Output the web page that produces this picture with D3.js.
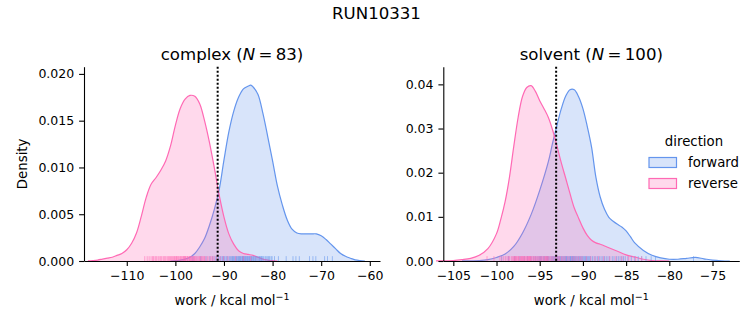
<!DOCTYPE html>
<html>
<head>
<meta charset="utf-8">
<script src="https://cdn.jsdelivr.net/npm/d3@7"></script>
<style>
  body { margin: 0; background: #fff; }
  text { font-family: "DejaVu Sans", sans-serif; fill: #000; }
</style>
</head>
<body>
<svg id="chart" width="753" height="325"></svg>
<script>
const runName = 'RUN10331';
const directions = ['forward', 'reverse'];

// kernel density curves, [work, density]
const complexForwardKde = [[-101,0],[-100,0.00003],[-99,0.0001],[-98,0.0002],[-97,0.0004],[-96,0.0008],[-95,0.0015],[-94,0.0024],[-93,0.0038],[-92,0.0055],[-91,0.0076],[-90,0.0108],[-89,0.0138],[-88,0.0160],[-87,0.0175],[-86,0.0184],[-85,0.0187],[-84.5,0.0188],[-84,0.0186],[-83,0.0178],[-82,0.0158],[-81,0.0133],[-80,0.0107],[-79,0.0080],[-78,0.0060],[-77,0.0044],[-76,0.0034],[-75,0.0030],[-74,0.0029],[-73,0.0029],[-72,0.0029],[-71,0.0029],[-70,0.0027],[-69,0.0023],[-68,0.0018],[-67,0.0013],[-66,0.0008],[-65,0.0005],[-64,0.0003],[-63,0.00012],[-62,0.00004],[-61,0]];
const complexReverseKde = [[-118,0.00002],[-117,0.00005],[-116,0.0001],[-115,0.0002],[-114,0.0003],[-113,0.0004],[-112,0.0006],[-111,0.0008],[-110,0.0012],[-109,0.0019],[-108,0.0030],[-107,0.0048],[-106,0.0068],[-105,0.0082],[-104,0.0089],[-103,0.0097],[-102,0.0107],[-101,0.0123],[-100,0.0145],[-99,0.0163],[-98,0.0173],[-97,0.0177],[-96,0.0176],[-95,0.0168],[-94,0.0150],[-93,0.0127],[-92,0.0100],[-91,0.0071],[-90,0.0047],[-89,0.0029],[-88,0.0018],[-87,0.0011],[-86,0.0008],[-85,0.0007],[-84,0.0006],[-83,0.0004],[-82,0.0002],[-81,0.0001],[-80,0.00003],[-79,0]];
const solventForwardKde = [[-104,0.00002],[-103,0.00005],[-102,0.0001],[-101,0.0003],[-100,0.0008],[-99,0.0016],[-98,0.0033],[-97,0.0063],[-96,0.0105],[-95,0.0160],[-94,0.0225],[-93.5,0.0268],[-93,0.0308],[-92.5,0.0345],[-92,0.0373],[-91.5,0.0388],[-91,0.0388],[-90.5,0.0372],[-90,0.0345],[-89.5,0.0305],[-89,0.0258],[-88.5,0.0190],[-88,0.0145],[-87.5,0.0117],[-87,0.0099],[-86.5,0.0090],[-86,0.0083],[-85.5,0.0077],[-85,0.0068],[-84.5,0.0055],[-84,0.0041],[-83,0.0024],[-82,0.0013],[-81,0.0007],[-80,0.0004],[-79,0.0004],[-78,0.0006],[-77,0.0008],[-76,0.0005],[-75,0.0002],[-74,0.00005],[-73,0]];
const solventReverseKde = [[-107,0.00002],[-106,0.00005],[-105,0.0001],[-104,0.0003],[-103,0.0006],[-102,0.0013],[-101,0.0028],[-100,0.0062],[-99.5,0.0095],[-99,0.0135],[-98.5,0.0190],[-98,0.0260],[-97.5,0.0325],[-97,0.0372],[-96.5,0.0393],[-96,0.0397],[-95.5,0.0384],[-95,0.0363],[-94.5,0.0345],[-94,0.0325],[-93.5,0.0296],[-93,0.0260],[-92.5,0.0222],[-92,0.0188],[-91.5,0.0153],[-91,0.0120],[-90.5,0.0097],[-90,0.0075],[-89.5,0.0058],[-89,0.0047],[-88.5,0.0041],[-88,0.0038],[-87,0.0030],[-86,0.0022],[-85,0.0014],[-84,0.0009],[-83,0.0004],[-82,0.0001],[-81,0.00003],[-80,0]];

// individual work values (rug)
const complexForwardWork = [-96.4,-94.8,-93.7,-92.9,-92.3,-91.8,-91.5,-91.1,-90.8,-90.6,-90.3,-90.1,-89.9,-89.6,-89.4,-89.2,-88.9,-88.7,-88.5,-88.3,-88.2,-88.0,-87.9,-87.7,-87.5,-87.4,-87.2,-87.0,-86.9,-86.8,-86.6,-86.5,-86.3,-86.2,-86.1,-86.0,-85.9,-85.8,-85.6,-85.5,-85.4,-85.2,-85.1,-85.0,-84.8,-84.7,-84.6,-84.4,-84.3,-84.2,-84.0,-83.9,-83.7,-83.5,-83.4,-83.2,-83.0,-82.8,-82.7,-82.5,-82.3,-82.2,-82.0,-81.8,-81.5,-81.3,-81.0,-80.8,-80.6,-80.3,-80.1,-79.6,-78.8,-77.2,-75.8,-75.2,-74.5,-72.4,-71.7,-71.1,-69.3,-68.7,-67.7];
const complexReverseWork = [-106.3,-105.8,-105.4,-105.0,-104.7,-104.5,-104.2,-104.0,-103.8,-103.5,-103.2,-103.0,-102.8,-102.5,-102.3,-102.1,-101.9,-101.6,-101.4,-101.2,-101.0,-100.8,-100.6,-100.4,-100.2,-100.1,-99.9,-99.8,-99.7,-99.5,-99.4,-99.2,-99.0,-98.9,-98.7,-98.6,-98.4,-98.3,-98.2,-98.1,-98.0,-97.9,-97.8,-97.6,-97.5,-97.4,-97.2,-97.1,-97.0,-96.9,-96.7,-96.6,-96.5,-96.3,-96.2,-96.1,-96.0,-95.8,-95.7,-95.5,-95.3,-95.1,-95.0,-94.8,-94.6,-94.5,-94.3,-94.1,-94.0,-93.7,-93.4,-93.1,-92.8,-92.5,-92.3,-92.0,-91.5,-90.8,-90.1,-89.2,-87.6,-86.0,-84.5];
const solventForwardWork = [-99.4,-98.6,-97.9,-97.3,-96.8,-96.4,-96.0,-95.7,-95.5,-95.3,-95.1,-95.0,-94.9,-94.8,-94.6,-94.5,-94.4,-94.2,-94.1,-94.0,-93.9,-93.7,-93.6,-93.5,-93.4,-93.3,-93.2,-93.1,-92.95,-92.9,-92.8,-92.7,-92.6,-92.5,-92.4,-92.3,-92.2,-92.1,-92.0,-91.95,-91.9,-91.8,-91.7,-91.6,-91.5,-91.45,-91.4,-91.3,-91.25,-91.2,-91.1,-91.05,-90.95,-90.9,-90.8,-90.7,-90.6,-90.5,-90.4,-90.3,-90.2,-90.1,-90.0,-89.9,-89.8,-89.7,-89.6,-89.5,-89.4,-89.3,-89.2,-89.1,-88.9,-88.7,-88.5,-88.3,-88.1,-87.9,-87.7,-87.5,-87.3,-87.1,-86.9,-86.6,-86.4,-86.1,-85.9,-85.7,-85.5,-85.3,-85.1,-84.8,-84.4,-84.0,-83.6,-83.2,-82.7,-82.1,-81.6,-77.2];
const solventReverseWork = [-101.1,-100.3,-99.6,-99.4,-99.2,-99.0,-98.9,-98.7,-98.6,-98.5,-98.3,-98.2,-98.1,-98.0,-97.95,-97.9,-97.8,-97.75,-97.7,-97.6,-97.5,-97.45,-97.4,-97.3,-97.2,-97.15,-97.1,-97.0,-96.95,-96.9,-96.8,-96.75,-96.7,-96.6,-96.5,-96.45,-96.4,-96.3,-96.25,-96.2,-96.15,-96.1,-96.05,-96.0,-95.9,-95.8,-95.7,-95.6,-95.5,-95.4,-95.3,-95.2,-95.1,-95.0,-94.9,-94.8,-94.7,-94.6,-94.5,-94.4,-94.35,-94.3,-94.2,-94.15,-94.1,-94.0,-93.9,-93.75,-93.6,-93.5,-93.35,-93.2,-93.1,-92.95,-92.8,-92.7,-92.5,-92.4,-92.2,-92.05,-91.8,-91.6,-91.3,-91.1,-90.9,-90.7,-90.5,-90.3,-90.1,-89.6,-89.1,-88.6,-88.2,-87.6,-86.9,-86.2,-85.5,-84.7,-83.9,-83.2];

// free energy estimates (dotted lines)
const complexEstimate = -91.3;
const solventEstimate = -93.1;

const complexXTicks = [-110, -100, -90, -80, -70, -60];
const complexYTicks = [0, 0.005, 0.010, 0.015, 0.020];
const solventXTicks = [-105, -100, -95, -90, -85, -80, -75];
const solventYTicks = [0, 0.01, 0.02, 0.03, 0.04];

const colors = {forward: '#6495ed', reverse: '#ff69b4'};

const panels = [
  {
    label: 'complex', n: 83, left: 84, right: 380,
    xDomain: [-118.8, -57.9], yDomain: [0, 0.02077],
    xTicks: complexXTicks, yTicks: complexYTicks, yFormat: '.3f',
    kde: {forward: complexForwardKde, reverse: complexReverseKde},
    work: {forward: complexForwardWork, reverse: complexReverseWork},
    estimate: complexEstimate, yLabel: 'Density'
  },
  {
    label: 'solvent', n: 100, left: 443.3, right: 739.3,
    xDomain: [-106.16, -71.9], yDomain: [0, 0.0440],
    xTicks: solventXTicks, yTicks: solventYTicks, yFormat: '.2f',
    kde: {forward: solventForwardKde, reverse: solventReverseKde},
    work: {forward: solventForwardWork, reverse: solventReverseWork},
    estimate: solventEstimate, yLabel: null
  }
];

const plotTop = 66.7, plotBottom = 261;
const svg = d3.select('#chart');
svg.append('rect').attr('width', 753).attr('height', 325).attr('fill', '#fff');

svg.append('text')
  .attr('x', 376.5).attr('y', 19)
  .attr('text-anchor', 'middle')
  .style('font-size', '16.6px')
  .text(runName);

panels.forEach(p => {
  const x = d3.scaleLinear().domain(p.xDomain).range([p.left, p.right]);
  const y = d3.scaleLinear().domain(p.yDomain).range([plotBottom, plotTop]);
  const g = svg.append('g');

  // keep the smoothed curve from dipping under the baseline in the tails
  const yc = d => Math.min(y(0), y(d[1]));
  const smooth = d3.curveCatmullRom.alpha(0.5);
  const area = d3.area()
    .x(d => x(d[0])).y0(y(0)).y1(yc)
    .curve(smooth);
  const line = d3.line()
    .x(d => x(d[0])).y(yc)
    .curve(smooth);

  directions.forEach(dir => {
    g.append('path')
      .datum(p.kde[dir])
      .attr('d', area)
      .attr('fill', colors[dir])
      .attr('fill-opacity', 0.25);
    g.append('path')
      .datum(p.kde[dir])
      .attr('d', line)
      .attr('fill', 'none')
      .attr('stroke', colors[dir])
      .attr('stroke-width', 1.2);
  });

  // rug
  const rugHeight = (plotBottom - plotTop) * 0.025;
  directions.forEach(dir => {
    g.append('g').selectAll('line')
      .data(p.work[dir])
      .join('line')
      .attr('x1', d => x(d)).attr('x2', d => x(d))
      .attr('y1', plotBottom).attr('y2', plotBottom - rugHeight)
      .attr('stroke', colors[dir])
      .attr('stroke-opacity', 0.55)
      .attr('stroke-width', 1);
  });

  g.append('line')
    .attr('x1', x(p.estimate)).attr('x2', x(p.estimate))
    .attr('y1', plotTop).attr('y2', plotBottom)
    .attr('stroke', '#000')
    .attr('stroke-width', 2)
    .attr('stroke-dasharray', '2,2');

  const xAxis = g.append('g')
    .attr('transform', `translate(0,${plotBottom})`)
    .call(d3.axisBottom(x).tickValues(p.xTicks).tickFormat(d3.format('d'))
      .tickSize(4.9).tickPadding(4.9).tickSizeOuter(0));
  const yAxis = g.append('g')
    .attr('transform', `translate(${p.left},0)`)
    .call(d3.axisLeft(y).tickValues(p.yTicks).tickFormat(d3.format(p.yFormat))
      .tickSize(4.9).tickPadding(4.9).tickSizeOuter(0));
  [xAxis, yAxis].forEach(a => {
    a.select('.domain').attr('stroke', '#000').attr('stroke-width', 1.1);
    a.selectAll('.tick line').attr('stroke', '#000').attr('stroke-width', 1.1);
    a.selectAll('.tick text')
      .style('font-family', '"DejaVu Sans", sans-serif')
      .style('font-size', '12.5px').attr('fill', '#000');
  });

  const cx = (p.left + p.right) / 2;
  const title = g.append('text')
    .attr('x', cx).attr('y', 60)
    .attr('text-anchor', 'middle')
    .style('font-size', '16.6px');
  title.append('tspan').text(`${p.label} (`);
  title.append('tspan').style('font-style', 'italic').text('N');
  title.append('tspan').text(`\u2009=\u2009${p.n})`);

  const xl = g.append('text')
    .attr('x', cx).attr('y', 305)
    .attr('text-anchor', 'middle')
    .style('font-size', '13.3px');
  xl.append('tspan').text('work / kcal mol');
  xl.append('tspan').attr('dy', -5).style('font-size', '9.5px').text('\u22121');

  if (p.yLabel) {
    g.append('text')
      .attr('transform', `translate(27,${(plotTop + plotBottom) / 2}) rotate(-90)`)
      .attr('text-anchor', 'middle')
      .style('font-size', '13.3px')
      .text(p.yLabel);
  }
});

// legend
const legend = svg.append('g').attr('transform', 'translate(649,0)');
legend.append('text')
  .attr('x', 45).attr('y', 146)
  .attr('text-anchor', 'middle')
  .style('font-size', '13.3px')
  .text('direction');
directions.forEach((dir, i) => {
  const yy = 157.5 + i * 21;
  legend.append('rect')
    .attr('x', 0).attr('y', yy).attr('width', 27.5).attr('height', 10)
    .attr('fill', colors[dir]).attr('fill-opacity', 0.25)
    .attr('stroke', colors[dir]).attr('stroke-width', 1.2);
  legend.append('text')
    .attr('x', 39).attr('y', yy + 9.5)
    .style('font-size', '13.3px')
    .text(dir);
});
</script>
</body>
</html>
